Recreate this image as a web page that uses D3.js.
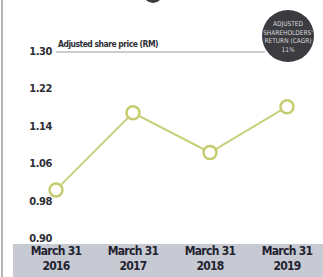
<!DOCTYPE html>
<html>
<head>
<meta charset="utf-8">
<script src="https://cdn.jsdelivr.net/npm/d3@7"></script>
<style>
  body { margin: 0; background: #fff; }
  svg { display: block; }
  .tick-y { font-family: "Liberation Sans Narrow", "DejaVu Sans Condensed", sans-serif; font-weight: bold; font-size: 11px; fill: #2e2e36; letter-spacing: -0.4px; }
  .tick-x { font-family: "Liberation Sans Narrow", "DejaVu Sans Condensed", sans-serif; font-weight: bold; font-size: 12px; fill: #23232f; letter-spacing: -0.7px; }
</style>
</head>
<body>
<script>
// data
var years = ["2016", "2017", "2018", "2019"];
var prices = [1.005, 1.17, 1.085, 1.183];
var yTicks = [0.90, 0.98, 1.06, 1.14, 1.22, 1.30];
var seriesLabel = "Adjusted share price (RM)";
var badgeLines = ["ADJUSTED", "SHAREHOLDERS'", "RETURN (CAGR)", "11%"];

var width = 323, height = 277;

var svg = d3.select("body").append("svg")
  .attr("width", width)
  .attr("height", height);

var x = d3.scalePoint().domain(years).range([56, 287]);
var y = d3.scaleLinear().domain([0.90, 1.30]).range([239, 52]);

// left border
svg.append("line")
  .attr("x1", 2).attr("x2", 2).attr("y1", 0).attr("y2", height)
  .attr("stroke", "#b4b4b8").attr("stroke-width", 2);

// partial dark icon at top
svg.append("circle")
  .attr("cx", 153).attr("cy", -7).attr("r", 10)
  .attr("fill", "#3a3a40");

// bottom band
svg.append("rect")
  .attr("x", 13).attr("y", 244)
  .attr("width", width - 13).attr("height", height - 244)
  .attr("fill", "#c7cad3");

// top reference line
svg.append("line")
  .attr("x1", 56).attr("x2", 265)
  .attr("y1", y(1.30)).attr("y2", y(1.30))
  .attr("stroke", "#9a9a9e").attr("stroke-width", 1);

svg.append("text")
  .attr("x", 58).attr("y", y(1.30) - 5)
  .attr("font-family", "Liberation Sans Narrow, DejaVu Sans Condensed, sans-serif")
  .attr("font-size", 8.5)
  .attr("font-weight", "bold")
  .attr("letter-spacing", -0.5)
  .attr("fill", "#2e2e36")
  .text(seriesLabel);

// y tick labels
svg.selectAll(".tick-y")
  .data(yTicks)
  .enter().append("text")
  .attr("class", "tick-y")
  .attr("x", 52)
  .attr("y", function(d) { return y(d) + 3; })
  .attr("text-anchor", "end")
  .text(function(d) { return d.toFixed(2); });

// x labels, two lines each
var xg = svg.selectAll(".xlab")
  .data(years)
  .enter().append("g")
  .attr("class", "xlab")
  .attr("transform", function(d) { return "translate(" + x(d) + ",0)"; });
xg.append("text").attr("class", "tick-x").attr("text-anchor", "middle")
  .attr("y", 255).text("March 31");
xg.append("text").attr("class", "tick-x").attr("text-anchor", "middle")
  .attr("y", 270).text(function(d) { return d; });

// line
var line = d3.line()
  .x(function(d, i) { return x(years[i]); })
  .y(function(d) { return y(d); });

svg.append("path")
  .datum(prices)
  .attr("d", line)
  .attr("fill", "none")
  .attr("stroke", "#c9d07c")
  .attr("stroke-width", 2);

svg.selectAll(".pt")
  .data(prices)
  .enter().append("circle")
  .attr("class", "pt")
  .attr("cx", function(d, i) { return x(years[i]); })
  .attr("cy", function(d) { return y(d); })
  .attr("r", 6.5)
  .attr("fill", "#fff")
  .attr("stroke", "#c4cc6e")
  .attr("stroke-width", 2.5);

// badge
var badge = svg.append("g").attr("transform", "translate(288,36)");
badge.append("circle").attr("r", 26).attr("fill", "#3b3b40");
badge.selectAll("text")
  .data(badgeLines)
  .enter().append("text")
  .attr("text-anchor", "middle")
  .attr("y", function(d, i) { return -10 + i * 8.5; })
  .attr("font-family", "Liberation Sans Narrow, DejaVu Sans Condensed, sans-serif")
  .attr("font-size", 6.5)
  .attr("fill", "#d8d8dc")
  .text(function(d) { return d; });
</script>
</body>
</html>
